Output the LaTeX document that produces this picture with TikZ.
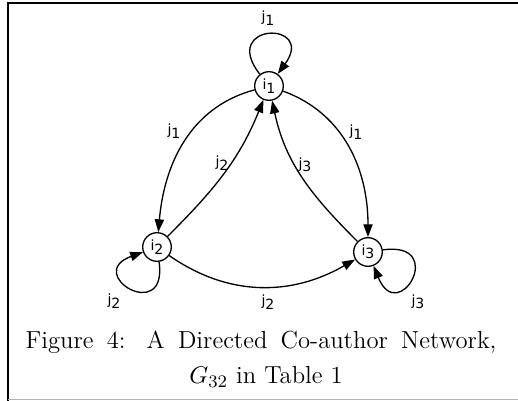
\documentclass[tikz,border=0pt]{standalone}
\usepackage{fontspec}
\newfontfamily\graphfont{DejaVu Sans}
\usetikzlibrary{arrows.meta}

\newcommand{\idx}[2]{#1\raisebox{-0.45ex}{#2}}

\begin{document}
\begin{tikzpicture}[
  x=0.4545pt, y=0.4545pt,
  vertex/.style={circle, draw, line width=0.6pt, minimum size=13pt, inner sep=0pt, font=\graphfont\fontsize{6.4}{7}\selectfont},
  weight/.style={inner sep=0pt, font=\graphfont\fontsize{6.4}{7}\selectfont},
  link/.style={draw, line width=0.6pt, -{Triangle[length=5.8pt,width=4.2pt]}}
]
\useasboundingbox (0,0) rectangle (518,401);
% page frame
\draw[line width=1pt] (7,398) -- (518,398);
\draw[line width=1.2pt] (8,398) -- (8,0);
\draw[gray!60, line width=0.8pt] (8,1.5) -- (518,1.5);

% authors
\node[vertex] (i1) at (269,315) {\idx{i}{1}};
\node[vertex] (i2) at (157,154) {\idx{i}{2}};
\node[vertex] (i3) at (368,149) {\idx{i}{3}};

% co-authorships
\path[link] (i1) to[out=128,in=54,distance=30pt] (i1);
\path[link] (i1) to[out=195,in=85] (i2);
\path[link] (i2) to[out=45,in=-112] (i1);
\path[link] (i3) to[out=135,in=-78] (i1);
\path[link] (i1) to[out=-20,in=90] (i3);
\path[link] (i2) to[out=-35,in=210] (i3);
\path[link] (i2) to[out=-82,in=200,distance=29pt] (i2);
\path[link] (i3) to[out=8,in=-68,distance=30pt] (i3);

% journals
\node[weight] (w11) at (268,383) {\idx{j}{1}};
\node[weight] (w12) at (174,270) {\idx{j}{1}};
\node[weight] (w21) at (222,238) {\idx{j}{2}};
\node[weight] (w31) at (305,236) {\idx{j}{3}};
\node[weight] (w13) at (356,269) {\idx{j}{1}};
\node[weight] (w22) at (114,100) {\idx{j}{2}};
\node[weight] (w23) at (268,99) {\idx{j}{2}};
\node[weight] (w33) at (418,99) {\idx{j}{3}};

% caption
\node[font=\fontsize{11.2}{13}\selectfont] (cap1) at (261,59) {\hbox to 214pt{Figure 4: A Directed Co-author Network,}};
\node[font=\fontsize{11.2}{13}\selectfont] (cap2) at (266,24) {$G_{32}$ in Table 1};
\end{tikzpicture}
\end{document}
